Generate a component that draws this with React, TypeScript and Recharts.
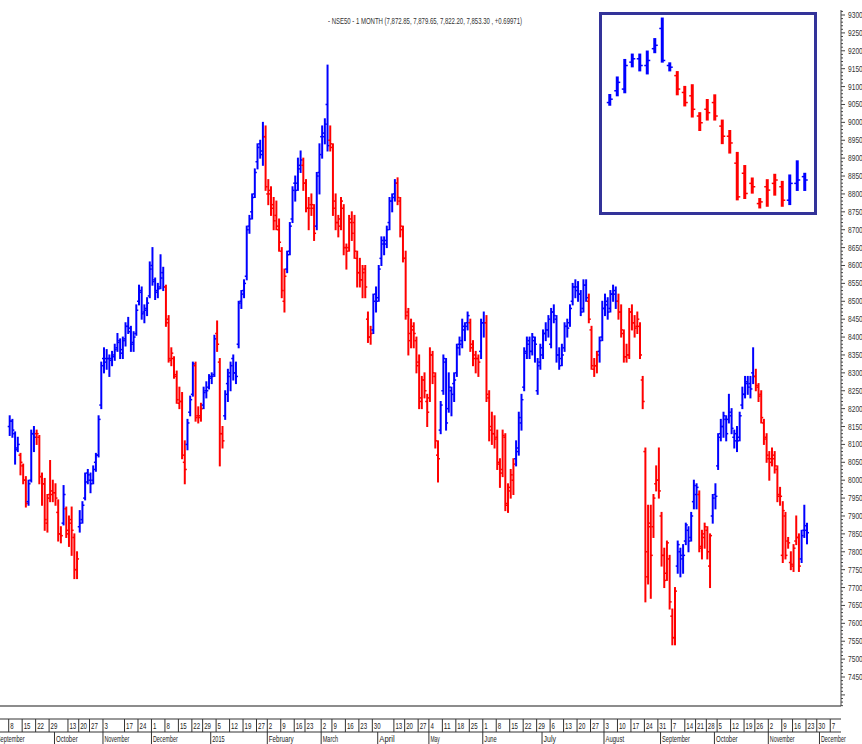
import React from "react";
import { ComposedChart, Bar, XAxis, YAxis } from "recharts";

type Q = [number, number, number, number]; // open, high, low, close

// NSE50 1-month, daily bars from 8 Sep 2014
const sep14: Q[] = [
  [8150, 8180, 8125, 8165], [8165, 8170, 8120, 8140], [8130, 8135, 8045, 8085], [8090, 8120, 8080, 8100],
  [8070, 8075, 8015, 8050], [8040, 8045, 7990, 8000], [8000, 8010, 7925, 7935], [7940, 8000, 7930, 7990],
  [8000, 8140, 7995, 8130], [8130, 8150, 8080, 8120], [8130, 8140, 8100, 8130], [8120, 8125, 7990, 8010],
  [8010, 8020, 7930, 7990], [7990, 8005, 7860, 7890], [7880, 7960, 7855, 7950], [7960, 8055, 7940, 7960],
  [7970, 8000, 7940, 7965],
];
const oct14: Q[] = [
  [7965, 7990, 7930, 7950], [7910, 7945, 7830, 7850], [7850, 7870, 7825, 7845], [7880, 7985, 7875, 7960],
  [7920, 7925, 7840, 7860], [7850, 7900, 7815, 7880], [7890, 7925, 7790, 7860], [7840, 7850, 7725, 7750],
  [7750, 7800, 7725, 7780], [7870, 7915, 7855, 7880], [7890, 7940, 7880, 7930], [7950, 8020, 7945, 7995],
  [8020, 8030, 7990, 8015], [8000, 8020, 7965, 7990], [8000, 8040, 7990, 8030], [8050, 8075, 8025, 8070],
  [8070, 8180, 8065, 8170], [8210, 8330, 8200, 8320],
];
const nov14: Q[] = [
  [8340, 8370, 8300, 8330], [8340, 8365, 8310, 8340], [8340, 8350, 8290, 8335], [8340, 8360, 8320, 8345],
  [8350, 8380, 8335, 8365], [8370, 8410, 8360, 8385], [8390, 8395, 8340, 8355], [8365, 8400, 8340, 8390],
  [8395, 8440, 8375, 8430], [8430, 8455, 8410, 8425], [8415, 8430, 8360, 8380], [8385, 8415, 8360, 8400],
  [8410, 8490, 8405, 8475], [8500, 8545, 8490, 8530], [8525, 8540, 8450, 8465], [8470, 8490, 8440, 8475],
  [8480, 8510, 8460, 8495], [8515, 8610, 8510, 8590],
];
const dec14: Q[] = [
  [8600, 8650, 8545, 8555], [8560, 8565, 8505, 8525], [8530, 8550, 8510, 8535], [8540, 8630, 8535, 8565],
  [8580, 8595, 8530, 8540], [8540, 8545, 8430, 8440], [8450, 8460, 8330, 8340], [8335, 8370, 8320, 8355],
  [8340, 8345, 8285, 8295], [8290, 8305, 8215, 8225], [8215, 8260, 8200, 8220], [8220, 8245, 8060, 8070],
  [8050, 8110, 7990, 8030], [8100, 8170, 8085, 8160], [8190, 8235, 8180, 8225], [8240, 8330, 8235, 8325],
  [8320, 8330, 8165, 8175], [8180, 8205, 8160, 8175], [8180, 8215, 8165, 8200], [8210, 8260, 8200, 8245],
  [8250, 8275, 8230, 8250], [8260, 8295, 8255, 8285],
];
const jan15: Q[] = [
  [8290, 8300, 8270, 8290], [8295, 8405, 8290, 8395], [8410, 8445, 8360, 8380], [8330, 8340, 8040, 8130],
  [8130, 8150, 8090, 8110], [8180, 8250, 8170, 8240], [8270, 8310, 8220, 8290], [8300, 8330, 8250, 8320],
  [8340, 8350, 8280, 8300], [8300, 8330, 8270, 8290], [8380, 8500, 8370, 8495], [8500, 8530, 8480, 8520],
  [8530, 8560, 8510, 8550], [8570, 8710, 8560, 8700], [8710, 8740, 8690, 8730], [8750, 8800, 8730, 8790],
  [8800, 8870, 8790, 8860], [8890, 8940, 8870, 8930], [8940, 8950, 8900, 8920], [8910, 9000, 8880, 8960],
  [8960, 8990, 8810, 8820],
];
const feb15: Q[] = [
  [8800, 8840, 8770, 8800], [8810, 8820, 8740, 8760], [8770, 8790, 8700, 8725], [8740, 8780, 8700, 8710],
  [8700, 8730, 8640, 8665], [8640, 8650, 8510, 8530], [8500, 8590, 8470, 8570], [8590, 8640, 8580, 8630],
  [8640, 8720, 8630, 8710], [8730, 8820, 8720, 8810], [8830, 8850, 8780, 8810], [8830, 8900, 8810, 8870],
  [8880, 8920, 8860, 8895], [8880, 8900, 8810, 8830], [8830, 8840, 8750, 8760], [8760, 8790, 8700, 8760],
  [8770, 8800, 8740, 8770], [8760, 8770, 8670, 8690], [8710, 8860, 8700, 8850], [8860, 8940, 8800, 8910],
];
const mar15: Q[] = [
  [8960, 8990, 8900, 8960], [8970, 9010, 8940, 8995], [9050, 9160, 8920, 8935], [8950, 8990, 8920, 8940],
  [8930, 8940, 8740, 8760], [8780, 8800, 8700, 8720], [8720, 8740, 8680, 8710], [8730, 8790, 8700, 8780],
  [8760, 8770, 8630, 8650], [8650, 8660, 8590, 8640], [8650, 8740, 8640, 8730], [8720, 8750, 8670, 8690],
  [8720, 8740, 8620, 8640], [8620, 8640, 8540, 8580], [8580, 8620, 8540, 8560], [8560, 8600, 8510, 8580],
  [8590, 8600, 8510, 8540], [8450, 8470, 8385, 8400], [8400, 8430, 8380, 8410], [8420, 8520, 8410, 8500],
  [8520, 8540, 8470, 8500],
];
const apr15: Q[] = [
  [8510, 8600, 8500, 8590], [8620, 8680, 8600, 8670], [8660, 8680, 8630, 8660], [8670, 8710, 8650, 8700],
  [8720, 8790, 8700, 8780], [8780, 8800, 8750, 8790], [8800, 8840, 8780, 8830], [8830, 8845, 8770, 8790],
  [8780, 8790, 8680, 8710], [8700, 8710, 8610, 8620], [8620, 8640, 8450, 8460], [8470, 8480, 8350, 8390],
  [8410, 8450, 8370, 8430], [8420, 8440, 8370, 8410], [8390, 8400, 8300, 8320], [8330, 8350, 8200, 8220],
  [8230, 8290, 8200, 8280], [8280, 8300, 8230, 8250], [8220, 8240, 8150, 8190],
];
const may15: Q[] = [
  [8230, 8370, 8220, 8350], [8350, 8360, 8270, 8300], [8290, 8300, 8090, 8110], [8070, 8110, 7995, 8060],
  [8140, 8220, 8130, 8210], [8250, 8350, 8240, 8340], [8330, 8340, 8140, 8160], [8200, 8300, 8190, 8260],
  [8250, 8260, 8180, 8240], [8270, 8300, 8220, 8280], [8300, 8380, 8290, 8370], [8380, 8400, 8350, 8380],
  [8390, 8450, 8370, 8430], [8420, 8440, 8390, 8430], [8440, 8470, 8420, 8460], [8440, 8450, 8360, 8380],
  [8370, 8390, 8320, 8350], [8340, 8360, 8300, 8340], [8340, 8350, 8290, 8330], [8360, 8450, 8340, 8440],
];
const jun15: Q[] = [
  [8440, 8470, 8400, 8440], [8440, 8460, 8220, 8240], [8230, 8250, 8110, 8140], [8150, 8190, 8100, 8130],
  [8130, 8180, 8090, 8115], [8120, 8140, 8030, 8045], [8050, 8060, 7980, 8020], [8030, 8140, 8010, 8125],
  [8120, 8130, 7915, 7935], [7930, 7990, 7910, 7970], [7980, 8030, 7950, 8015], [8000, 8060, 7960, 8045],
  [8060, 8110, 8040, 8090], [8080, 8190, 8070, 8175], [8160, 8240, 8140, 8225], [8260, 8370, 8250, 8355],
  [8360, 8400, 8340, 8380], [8390, 8400, 8340, 8360], [8360, 8410, 8350, 8400], [8390, 8400, 8330, 8380],
  [8250, 8340, 8240, 8320], [8330, 8380, 8310, 8370],
];
const jul15: Q[] = [
  [8350, 8420, 8340, 8410], [8410, 8440, 8390, 8420], [8420, 8460, 8400, 8450], [8380, 8480, 8370, 8470],
  [8470, 8490, 8440, 8460], [8450, 8460, 8330, 8350], [8350, 8370, 8310, 8320], [8340, 8380, 8320, 8350],
  [8370, 8440, 8360, 8430], [8430, 8450, 8400, 8425], [8440, 8490, 8430, 8480], [8500, 8550, 8490, 8540],
  [8540, 8560, 8510, 8530], [8540, 8555, 8500, 8520], [8520, 8530, 8460, 8470], [8480, 8560, 8470, 8545],
  [8545, 8560, 8500, 8510], [8500, 8520, 8440, 8450], [8420, 8430, 8310, 8320], [8310, 8340, 8290, 8320],
  [8320, 8360, 8300, 8350], [8360, 8400, 8330, 8390], [8400, 8500, 8390, 8480],
];
const aug15: Q[] = [
  [8480, 8520, 8460, 8500], [8490, 8510, 8450, 8470], [8480, 8530, 8470, 8520], [8520, 8545, 8500, 8530],
  [8520, 8540, 8480, 8500], [8500, 8520, 8450, 8470], [8470, 8490, 8400, 8420], [8410, 8420, 8330, 8345],
  [8345, 8380, 8330, 8350], [8350, 8480, 8340, 8470], [8470, 8490, 8420, 8440], [8440, 8460, 8400, 8425],
  [8430, 8470, 8410, 8450], [8430, 8440, 8340, 8350], [8280, 8290, 8200, 8220], [8080, 8090, 7660, 7800],
  [7730, 7930, 7710, 7880], [7870, 7930, 7670, 7790], [7870, 7960, 7840, 7950], [7990, 8040, 7970, 8000],
  [8000, 8090, 7950, 7970],
];
const sep15: Q[] = [
  [7900, 7910, 7760, 7790], [7790, 7810, 7700, 7720], [7740, 7830, 7720, 7825], [7780, 7790, 7640, 7660],
  [7620, 7640, 7540, 7560], [7560, 7700, 7540, 7690], [7760, 7830, 7740, 7820], [7800, 7810, 7730, 7790],
  [7780, 7820, 7740, 7790], [7830, 7880, 7820, 7875], [7860, 7870, 7800, 7830], [7840, 7910, 7830, 7900],
  [7940, 8000, 7920, 7985], [7960, 7990, 7920, 7980], [7960, 7970, 7800, 7815], [7810, 7860, 7780, 7850],
  [7840, 7880, 7810, 7870], [7860, 7870, 7780, 7800], [7760, 7850, 7700, 7845], [7900, 7960, 7880, 7950],
];
const oct15: Q[] = [
  [7960, 7990, 7920, 7955], [8040, 8130, 8030, 8120], [8130, 8170, 8110, 8150], [8150, 8190, 8120, 8180],
  [8170, 8180, 8110, 8130], [8170, 8240, 8160, 8190], [8180, 8200, 8130, 8145], [8120, 8140, 8090, 8110],
  [8130, 8150, 8080, 8110], [8120, 8190, 8110, 8180], [8210, 8260, 8200, 8240], [8240, 8290, 8230, 8275],
  [8270, 8290, 8240, 8260], [8270, 8290, 8230, 8255], [8300, 8370, 8270, 8290], [8290, 8310, 8250, 8265],
  [8260, 8270, 8220, 8235], [8240, 8250, 8160, 8175], [8160, 8170, 8100, 8115], [8120, 8130, 8050, 8070],
];
const nov15: Q[] = [
  [8060, 8080, 8000, 8050], [8060, 8090, 8040, 8060], [8070, 8080, 8020, 8040], [8030, 8040, 7940, 7955],
  [7960, 7980, 7930, 7955], [7790, 7940, 7770, 7915], [7900, 7910, 7780, 7790], [7830, 7840, 7810, 7825],
  [7770, 7800, 7750, 7765], [7760, 7820, 7745, 7810], [7830, 7900, 7820, 7840], [7840, 7850, 7745, 7760],
  [7780, 7860, 7770, 7845], [7860, 7930, 7840, 7860], [7872.85, 7879.65, 7822.2, 7853.3],
];

// b = blue (up trend), r = red (down trend), one letter per bar
const trendByMonth = [
  "bbbbrrrbbbrrrrrrr", "rrrbrrrrrbbbbbbbbb", "bbbbbbbbbbbbbbbbbb", "bbbbbrrrrrrrrbbbrrrbbb",
  "bbrrrbbbbbbbbbbbbbbbr", "rrrrrrrbbbbbbrrrrrbb", "bbbrrrrrrrrrrrrrrrrbb", "bbbbbbbrrrrrrrrrrrr",
  "rrrrbbbbbbbbbbbrrrrb", "brrrrrrrrrrrbbbbbbbbbb", "bbbbbbbbbbbbbbbbbrrrrbb", "bbbbbrrrrrrrrrrrrrrrr",
  "rrrrrrbbbbbbbbrrrrrb", "bbbbbbbbbbbbbbbrrrrr", "rrrrrrrrrrrrbbb",
];

// inset panel bars
const insetBars: Q[] = [
  [9040, 9064, 9032, 9050], [9075, 9116, 9060, 9100], [9080, 9168, 9069, 9150], [9160, 9184, 9146, 9170],
  [9170, 9184, 9134, 9150], [9150, 9193, 9125, 9165], [9200, 9230, 9188, 9210], [9260, 9291, 9160, 9165],
  [9150, 9158, 9134, 9145], [9120, 9132, 9063, 9080], [9070, 9088, 9030, 9040], [9060, 9093, 8997, 9020],
  [9000, 9010, 8957, 8980], [9020, 9049, 8988, 9010], [9040, 9063, 8988, 9000], [8970, 8988, 8918, 8940],
  [8940, 8957, 8890, 8920], [8860, 8892, 8751, 8760], [8830, 8853, 8755, 8770], [8800, 8816, 8771, 8790],
  [8740, 8755, 8727, 8745], [8790, 8811, 8732, 8780], [8800, 8827, 8765, 8810], [8790, 8806, 8732, 8750],
  [8750, 8825, 8737, 8800], [8800, 8867, 8779, 8810], [8820, 8830, 8779, 8810],
];
const insetTrend = "bbbbbbbbbrrrrrrrrrrrrrrrbbb";

const holidays = [
  "2014-10-02", "2014-10-03", "2014-10-06", "2014-10-15", "2014-10-24", "2014-11-04", "2014-11-06",
  "2014-12-25", "2015-01-26", "2015-02-17", "2015-03-06", "2015-04-02", "2015-04-03", "2015-04-14",
  "2015-05-01", "2015-09-17", "2015-09-25", "2015-10-02", "2015-10-22", "2015-11-12", "2015-11-25",
  "2015-12-25",
];
const extraSessions = ["2015-02-28"];
const hiddenWeeks = ["2014-10-07", "2014-11-10", "2015-04-06"];
const monthNames = [
  "September", "October", "November", "December", "2015", "February", "March", "April", "May",
  "June", "July", "August", "September", "October", "November", "December",
];
const firstBarDate = "2014-09-08";

const TITLE = "- NSE50 - 1 MONTH (7,872.85, 7,879.65, 7,822.20, 7,853.30 , +0.69971)";
const FONT = "'Liberation Sans', Arial, sans-serif";

// trading calendar
const DAY = 86400000;
const days: string[] = [];
for (let t = Date.UTC(2014, 8, 1); t <= Date.UTC(2015, 11, 11); t += DAY) {
  const d = new Date(t);
  const iso = d.toISOString().slice(0, 10);
  const wd = d.getUTCDay();
  if ((wd > 0 && wd < 6 && !holidays.includes(iso)) || extraSessions.includes(iso)) days.push(iso);
}

const X0 = 1.27;
const X1 = 313.49;
const Y0 = 7369;
const Y1 = 9314;

const weekLabel = new Map<number, string>();
const monthLabel = new Map<number, string>();
{
  let lastWeek = "";
  let lastMonth = "";
  let m = 0;
  days.forEach((iso, i) => {
    const t = Date.parse(iso + "T00:00:00Z");
    const wd = new Date(t).getUTCDay();
    const monday = new Date(t - ((wd + 6) % 7) * DAY).toISOString().slice(0, 10);
    if (monday !== lastWeek) {
      lastWeek = monday;
      if (!hiddenWeeks.includes(iso) && i - 0.5 >= X0) weekLabel.set(i - 0.5, String(Number(iso.slice(8))));
    }
    const mk = iso.slice(0, 7);
    if (mk !== lastMonth) {
      lastMonth = mk;
      monthLabel.set(i - 0.5, monthNames[m]);
      m += 1;
    }
  });
}
const weekTicks = Array.from(weekLabel.keys());
const monthTicks = Array.from(monthLabel.keys());

const yTicks: number[] = [];
for (let v = 7370; v <= 9310; v += 10) yTicks.push(v);

const allBars = [sep14, oct14, nov14, dec14, jan15, feb15, mar15, apr15, may15, jun15, jul15, aug15, sep15, oct15, nov15].flat();
const trend = trendByMonth.join("");
const start = days.indexOf(firstBarDate);
const rows = allBars.map((q, k) => ({
  i: start + k, range: [q[2], q[1]], o: q[0], h: q[1], l: q[2], c: q[3], up: trend[k] === "b",
}));
const insetRows = insetBars.map((q, k) => ({
  i: k, range: [q[2], q[1]], o: q[0], h: q[1], l: q[2], c: q[3], up: insetTrend[k] === "b",
}));

function makeOhlc(stem: number, arm: number) {
  return (p: any) => {
    const { x, y, width, height, payload } = p;
    if (x == null || !payload) return <g />;
    const top = Math.min(y, y + height);
    const bot = Math.max(y, y + height);
    const span = payload.h - payload.l || 1;
    const at = (v: number) => top + ((payload.h - v) / span) * (bot - top);
    const cx = x + width / 2;
    const col = payload.up ? "#0000ff" : "#ff0000";
    return (
      <g stroke={col}>
        <line x1={cx} x2={cx} y1={top - 0.5} y2={bot + 0.5} strokeWidth={stem} />
        <line x1={cx - stem / 2 - arm} x2={cx} y1={at(payload.o)} y2={at(payload.o)} strokeWidth={1.5} />
        <line x1={cx} x2={cx + stem / 2 + arm} y1={at(payload.c)} y2={at(payload.c)} strokeWidth={1.5} />
      </g>
    );
  };
}

const mainShape = makeOhlc(2, 1);
const insetShape = makeOhlc(3, 1.5);

// narrow label: squeeze glyphs to the width they take in the reference
function NarrowText({ x, y, text, per, fill }: { x: number; y: number; text: string; per: number; fill: string }) {
  if (!text) return null;
  return (
    <text x={x} y={y} fontSize={9} fill={fill} fontFamily={FONT} textLength={text.length * per} lengthAdjust="spacingAndGlyphs">
      {text}
    </text>
  );
}

function WeekTick(p: any) {
  const { x, y, payload } = p;
  return (
    <g>
      <line x1={x} x2={x} y1={y} y2={y + 13} stroke="#333" />
      <NarrowText x={x + 1.5} y={y + 10} text={weekLabel.get(payload.value) || ""} per={3.4} fill="#222" />
    </g>
  );
}

function MonthTick(p: any) {
  const { x, y, payload } = p;
  return (
    <g>
      <line x1={x} x2={x} y1={y} y2={y + 12} stroke="#333" />
      <NarrowText x={x + 1.5} y={y + 10} text={monthLabel.get(payload.value) || ""} per={3.1} fill="#222" />
    </g>
  );
}

function PriceTick(p: any) {
  const { x, y, payload } = p;
  const v = payload.value as number;
  const major = v % 50 === 0;
  return (
    <g>
      <line x1={x} x2={x + (major ? 4 : 2)} y1={y} y2={y} stroke="#444" />
      {major && v >= 7450 && v <= 9300 ? (
        <NarrowText x={x + 7} y={y + 3} text={String(v)} per={3.7} fill="#333" />
      ) : null}
    </g>
  );
}

export default function App() {
  return (
    <div style={{ position: "absolute", left: 0, top: 0, width: 862, height: 744, background: "#fff" }}>
      <ComposedChart width={862} height={744} data={rows} margin={{ top: 10, right: 0, bottom: 0, left: 0 }}>
        <XAxis xAxisId="x1" dataKey="i" type="number" domain={[X0, X1]} allowDataOverflow height={13}
          tick={false} tickLine={false} axisLine={{ stroke: "#8c8c8c", strokeWidth: 2 }} />
        <XAxis xAxisId="x2" dataKey="i" type="number" domain={[X0, X1]} allowDataOverflow height={13} ticks={weekTicks}
          interval={0} tickSize={0} tickMargin={0} tickLine={false} axisLine={{ stroke: "#333" }}
          tick={(p: any) => <WeekTick {...p} />} />
        <XAxis xAxisId="x3" dataKey="i" type="number" domain={[X0, X1]} allowDataOverflow height={12} ticks={monthTicks}
          interval={0} tickSize={0} tickMargin={0} tickLine={false} axisLine={{ stroke: "#333" }}
          tick={(p: any) => <MonthTick {...p} />} />
        <YAxis yAxisId="p" orientation="right" width={21} type="number" domain={[Y0, Y1]} allowDataOverflow
          ticks={yTicks} interval={0} tickSize={0} tickMargin={0} tickLine={false} axisLine={{ stroke: "#444" }}
          tick={(p: any) => <PriceTick {...p} />} />
        <Bar xAxisId="x1" yAxisId="p" dataKey="range" barSize={2} shape={mainShape} isAnimationActive={false} />
      </ComposedChart>

      <div style={{ position: "absolute", left: 599, top: 12, width: 212, height: 197, border: "3px solid #333399", background: "#fff" }}>
        <ComposedChart width={212} height={197} data={insetRows} margin={{ top: 0, right: 0, bottom: 0, left: 0 }}>
          <XAxis dataKey="i" type="number" domain={[-1.07, 27.2]} allowDataOverflow hide />
          <YAxis type="number" domain={[8715, 9300]} allowDataOverflow hide />
          <Bar dataKey="range" barSize={3} shape={insetShape} isAnimationActive={false} />
        </ComposedChart>
      </div>

      <svg width={862} height={30} style={{ position: "absolute", left: 0, top: 0 }}>
        <text x={328} y={24} fontSize={9.5} fill="#333" fontFamily={FONT} textLength={194} lengthAdjust="spacingAndGlyphs">
          {TITLE}
        </text>
      </svg>
    </div>
  );
}
